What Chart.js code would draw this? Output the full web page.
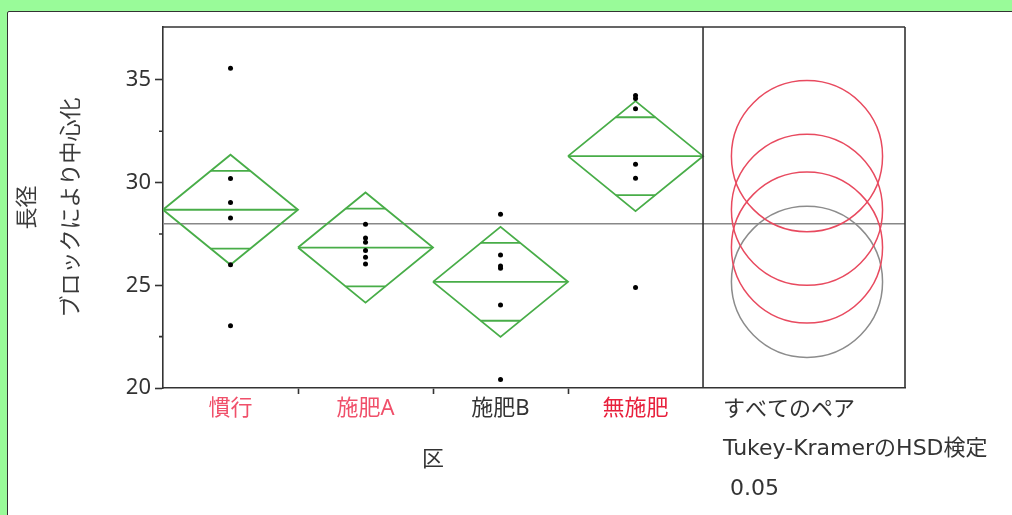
<!DOCTYPE html>
<html>
<head>
<meta charset="utf-8">
<script src="https://cdn.jsdelivr.net/npm/chart.js@4.4.1/dist/chart.umd.min.js"></script>
<style>
  html, body { margin: 0; padding: 0; width: 1012px; height: 515px; overflow: hidden; background: #99fb99; }
  #panel { position: absolute; left: 7px; top: 11px; width: 1100px; height: 600px; background: #fff; border: 1.5px solid #333; border-radius: 2px; }
  #wrap { position: absolute; left: 0; top: 0; width: 1012px; height: 515px; }
</style>
</head>
<body>
<div id="panel"></div>
<div id="wrap"><canvas id="chart" width="1012" height="515"></canvas></div>
<script>
// 長径（ブロックにより中心化）の区ごとの比較

const groups = ['慣行', '施肥A', '施肥B', '無施肥'];
const groupMeans = [28.68, 26.84, 25.17, 31.29];
const diamondHalf = [2.68, 2.68, 2.68, 2.68]; // 95% CI half width
const obsKankou = [35.57, 30.2, 29.03, 28.28, 26.0, 23.03];
const obsSehiA = [27.97, 27.3, 27.1, 26.7, 26.37, 26.04];
const obsSehiB = [28.46, 26.48, 25.94, 25.83, 24.04, 20.42];
const obsMuSehi = [34.25, 34.1, 33.6, 30.9, 30.21, 24.9];
const grandMean = 28.0;
const circleRadius = 3.68;
const circleHighlighted = [true, true, false, true];
const yTicks = [20, 25, 30, 35];
const yMinorTicks = [22.5, 27.5, 32.5];
const yRange = [20, 37.58];
const yTitle = ['長径', 'ブロックにより中心化'];
const xTitle = '区';
const pairsText = ['すべてのペア', 'Tukey-KramerのHSD検定', ' 0.05'];

const observations = [obsKankou, obsSehiA, obsSehiB, obsMuSehi];

// layout of the x axis: groups sit on 0..4, the circle panel runs on to X_MAX
const X_MAX = 5.496;
const CIRCLE_X = 4.77;

const GREEN = '#48ad48';
const INK = '#333';
const labelColors = ['#f0506a', '#f0506a', '#333333', '#e8203c'];

Chart.defaults.font.family = "'Noto Sans', 'Noto Sans CJK JP', sans-serif";
Chart.defaults.font.size = 22;

function seg(points) {
  return {
    data: points, showLine: true, pointRadius: 0, borderColor: GREEN,
    borderWidth: 1.8, tension: 0, order: 1
  };
}

const datasets = [];

datasets.push({
  label: 'grand mean',
  data: [{ x: 0, y: grandMean }, { x: X_MAX, y: grandMean }],
  showLine: true, pointRadius: 0, borderColor: '#888', borderWidth: 1.6, order: 2
});

groups.forEach((g, i) => {
  const m = groupMeans[i], h = diamondHalf[i], c = i + 0.5;
  const k = h / Math.SQRT2;             // overlap marks
  const w = 0.5 * (1 - 1 / Math.SQRT2); // their half width
  datasets.push(seg([{ x: i, y: m }, { x: c, y: m + h }, { x: i + 1, y: m }, { x: c, y: m - h }, { x: i, y: m }]));
  datasets.push(seg([{ x: i, y: m }, { x: i + 1, y: m }]));
  datasets.push(seg([{ x: c - w, y: m + k }, { x: c + w, y: m + k }]));
  datasets.push(seg([{ x: c - w, y: m - k }, { x: c + w, y: m - k }]));
});

observations.forEach((vals, i) => {
  datasets.push({
    label: groups[i],
    data: vals.map(v => ({ x: i + 0.5, y: v })),
    showLine: false, pointRadius: 2.5, pointBackgroundColor: '#000', pointBorderWidth: 0, order: 0
  });
});

// frame, minor ticks, comparison circles and the free text
const decor = {
  id: 'decor',
  afterDatasetsDraw(chart) {
    const { ctx, chartArea: a, scales: { x, y } } = chart;
    ctx.save();

    const cx = x.getPixelForValue(CIRCLE_X);
    const order = groups.map((g, i) => i).sort((p, q) => circleHighlighted[p] - circleHighlighted[q]);
    order.forEach(i => {
      const cy = y.getPixelForValue(groupMeans[i]);
      const r = y.getPixelForValue(groupMeans[i] - circleRadius) - cy;
      ctx.beginPath();
      ctx.arc(cx, cy, r, 0, Math.PI * 2);
      ctx.strokeStyle = circleHighlighted[i] ? '#e84a5f' : '#8c8c8c';
      ctx.lineWidth = 1.5;
      ctx.stroke();
    });

    ctx.strokeStyle = INK;
    ctx.lineWidth = 1.6;
    const xd = x.getPixelForValue(groups.length);
    ctx.beginPath();
    ctx.moveTo(a.left, a.top); ctx.lineTo(a.right, a.top);
    ctx.moveTo(a.right, a.top); ctx.lineTo(a.right, a.bottom);
    ctx.moveTo(xd, a.top); ctx.lineTo(xd, a.bottom);
    yMinorTicks.forEach(v => {
      const py = y.getPixelForValue(v);
      ctx.moveTo(a.left - 4, py); ctx.lineTo(a.left, py);
    });
    ctx.stroke();

    ctx.fillStyle = INK;
    ctx.textBaseline = 'middle';
    ctx.textAlign = 'center';
    ctx.font = "22px 'Noto Sans', 'Noto Sans CJK JP', sans-serif";
    ctx.fillText(xTitle, (x.getPixelForValue(0) + xd) / 2, 460);
    ctx.textAlign = 'left';
    ctx.font = "22px 'DejaVu Sans', 'Noto Sans CJK JP', sans-serif";
    [410, 449, 489].forEach((py, i) => ctx.fillText(pairsText[i], xd + 20, py));

    ctx.restore();
  }
};

new Chart(document.getElementById('chart'), {
  type: 'scatter',
  data: { datasets },
  options: {
    responsive: false,
    animation: false,
    layout: { padding: { left: 0, top: 27, right: 107, bottom: 0 } },
    plugins: { legend: { display: false }, tooltip: { enabled: false } },
    scales: {
      x: {
        type: 'linear', position: 'bottom', weight: 0, min: 0, max: X_MAX,
        afterBuildTicks: s => { s.ticks = [1, 2, 3].map(v => ({ value: v })); },
        ticks: { display: false },
        grid: { drawOnChartArea: false, drawTicks: true, tickLength: 6, color: INK, tickWidth: 1.6 },
        border: { display: true, color: INK, width: 1.6 },
        afterFit: s => { s.height = 6; }
      },
      xLabels: {
        type: 'linear', position: 'bottom', weight: 1, min: 0, max: X_MAX,
        afterBuildTicks: s => { s.ticks = groups.map((g, i) => ({ value: i + 0.5 })); },
        ticks: {
          autoSkip: false, maxRotation: 0, padding: 2,
          callback: (v, i) => groups[i],
          color: c => labelColors[c.index]
        },
        grid: { display: false, drawTicks: false },
        border: { display: false },
        afterFit: s => { s.height = 121; }
      },
      y: {
        type: 'linear', min: yRange[0], max: yRange[1],
        afterBuildTicks: s => { s.ticks = yTicks.map(v => ({ value: v })); },
        ticks: { color: INK, padding: 4, callback: v => v },
        grid: { drawOnChartArea: false, tickLength: 8, color: INK, tickWidth: 1.6 },
        border: { display: true, color: INK, width: 1.6 },
        title: { display: true, text: yTitle, color: '#3a3a3a', font: { size: 22, lineHeight: 2 }, padding: { top: 6, bottom: 0 } },
        afterFit: s => { s.width = 163; }
      }
    }
  },
  plugins: [decor]
});
</script>
</body>
</html>
